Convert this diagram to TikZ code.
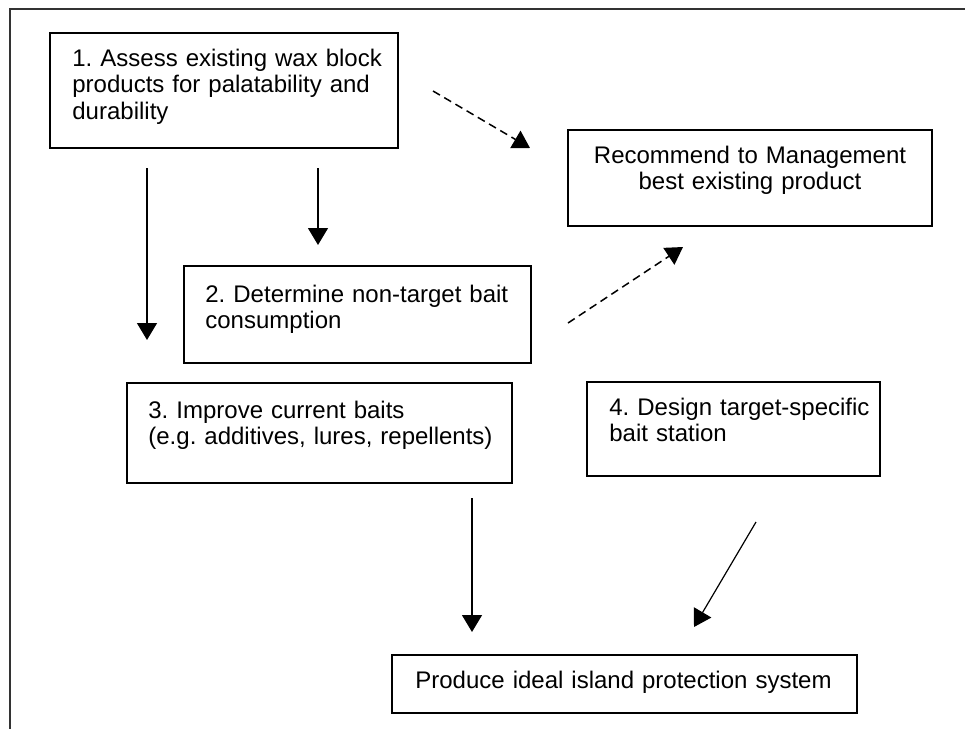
\documentclass[tikz,border=0pt]{standalone}
\usepackage{fontspec}
\setmainfont{Liberation Sans}
\usetikzlibrary{arrows.meta}
\frenchspacing

\begin{document}
\begin{tikzpicture}[x=0.5pt,y=-0.5pt]

\useasboundingbox (0,0) rectangle (965,729);

% page frame (top and left edge only)
\draw [black!80, line width=0.75pt] (965,9) -- (10,9) -- (10,729);

\begin{scope}[every node/.style={rectangle,draw,line width=0.75pt,fill=white}]
    \node (B1) at (224,90.5) [minimum width=174pt, minimum height=57.5pt] {};
    \node (R) at (750,178) [minimum width=182pt, minimum height=48pt] {};
    \node (B2) at (357.5,314.5) [minimum width=173.5pt, minimum height=48.5pt] {};
    \node (B3) at (319.5,433) [minimum width=192.5pt, minimum height=50pt] {};
    \node (B4) at (733.5,429) [minimum width=146.5pt, minimum height=47pt] {};
    \node (B5) at (624.5,684) [minimum width=232.5pt, minimum height=29pt] {};
\end{scope}

\begin{scope}[every node/.style={inner sep=0pt,text width=230pt,align=left,
              font=\fontsize{12}{13.3}\selectfont}]
    \node (T1) at (72,66) [anchor=base west] {1. Assess existing wax block\\products for palatability and\\durability};
    \node (TR) at (750,163) [anchor=base, text width=200pt, align=center] {Recommend to Management\\best existing product};
    \node (T2) at (205,302) [anchor=base west] {2. Determine non-target bait\\consumption};
    \node (T3) at (148,418) [anchor=base west] {3. Improve current baits\\(e.g. additives, lures, repellents)};
    \node (T4) at (609,415) [anchor=base west] {4. Design target-specific\\bait station};
    \node (T5) at (415,688) [anchor=base west] {Produce ideal island protection system};
\end{scope}

% free ends of the arrows
\coordinate (a1) at (147,168);  \coordinate (a2) at (147,340);
\coordinate (b1) at (318,168);  \coordinate (b2) at (318,245);
\coordinate (c1) at (472,498);  \coordinate (c2) at (472,632);
\coordinate (d1) at (756,522);  \coordinate (d2) at (694,627);
\coordinate (e1) at (433,91);   \coordinate (e2) at (530,148);
\coordinate (f1) at (568,323);  \coordinate (f2) at (683,247);

\begin{scope}[>={Triangle[length=8.5pt,width=10pt]}, line width=0.6pt]
    \draw [->] (a1) -- (a2);
    \draw [->] (b1) -- (b2);
    \draw [->] (c1) -- (c2);
    \draw [->] (d1) -- (d2);
    \draw [->, line width=0.75pt, dash pattern=on 4pt off 2.5pt] (e1) -- (e2);
    \draw [->, line width=0.75pt, dash pattern=on 4pt off 2.5pt] (f1) -- (f2);
\end{scope}

\end{tikzpicture}
\end{document}
